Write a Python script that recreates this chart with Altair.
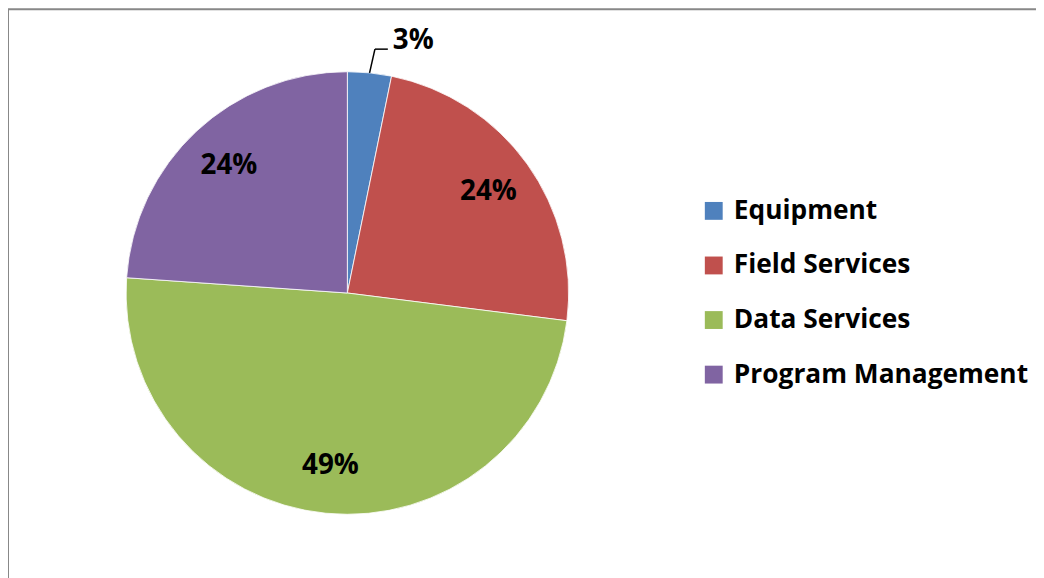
import altair as alt
import pandas as pd

categories = ["Equipment", "Field Services", "Data Services", "Program Management"]
shares = [3.2, 23.8, 49.1, 23.9]
colors = ["#4F81BD", "#C0504D", "#9BBB59", "#8064A2"]

total = sum(shares)
labels = [f"{round(v / total * 100):.0f}%" for v in shares]

df = pd.DataFrame({"cat": categories, "share": shares, "idx": list(range(len(categories)))})
df["inner"] = [l if c != "Equipment" else "" for c, l in zip(categories, labels)]
df["outer"] = [l if c == "Equipment" else "" for c, l in zip(categories, labels)]
cum = df["share"].cumsum()
df["mid"] = (cum - df["share"] / 2) / total

CX, CY, R, RL = 342, 285, 223, 247
FONT = "Open Sans"

base = alt.Chart(df).encode(
    theta=alt.Theta("share:Q", stack=True),
    order=alt.Order("idx:Q"),
)

color = alt.Color(
    "cat:N",
    sort=categories,
    scale=alt.Scale(domain=categories, range=colors),
    legend=alt.Legend(
        title=None,
        orient="none",
        legendX=698,
        legendY=189,
        symbolType="square",
        symbolSize=324,
        symbolStrokeWidth=0,
        labelFont=FONT,
        labelFontSize=26.5,
        labelFontWeight="bold",
        labelColor="black",
        labelOffset=7,
        rowPadding=28,
        labelLimit=400,
    ),
)

arcs = base.mark_arc(outerRadius=R, stroke="white", strokeWidth=0.8).encode(
    color=color, x=alt.value(CX), y=alt.value(CY)
)

inner = base.mark_text(radius=175, font=FONT, fontSize=28, fontWeight="bold", color="black").encode(
    text="inner:N", x=alt.value(CX), y=alt.value(CY)
)

outer = base.mark_text(
    radius=RL, font=FONT, fontSize=28, fontWeight="bold", color="black",
    align="left", baseline="alphabetic", dx=21, dy=0
).encode(text="outer:N", x=alt.value(CX), y=alt.value(CY))

leader_base = alt.Chart(df).transform_filter(
    alt.datum.outer != ""
).transform_calculate(
    a="datum.mid * 2 * PI",
).transform_calculate(
    x1=f"{CX} + {R} * sin(datum.a)",
    y1=f"{CY} - {R} * cos(datum.a)",
    x2=f"{CX} + {RL} * sin(datum.a) + 3",
    y2=f"{CY} - {RL} * cos(datum.a)",
    x3=f"{CX} + {RL} * sin(datum.a) + 16",
)

leader1 = leader_base.mark_rule(color="black", strokeWidth=1.5).encode(
    x=alt.X("x1:Q", scale=None), y=alt.Y("y1:Q", scale=None),
    x2="x2:Q", y2="y2:Q",
)
leader2 = leader_base.mark_rule(color="black", strokeWidth=1.5).encode(
    x=alt.X("x2:Q", scale=None), y=alt.Y("y2:Q", scale=None),
    x2="x3:Q",
)

frame = alt.Chart(pd.DataFrame({"f": [0]})).mark_rect(
    fillOpacity=0, stroke="#888888", strokeWidth=2
).encode(x=alt.value(0), y=alt.value(-1), x2=alt.value(1200), y2=alt.value(800))

chart = alt.layer(frame, arcs, inner, outer, leader1, leader2).resolve_scale(
    theta="shared"
).properties(
    width=1036, height=570, padding=0,
    autosize=alt.AutoSizeParams(type="none"),
).configure_view(strokeWidth=0)

chart.save("out.html", embed_options={"renderer": "svg", "actions": False})
